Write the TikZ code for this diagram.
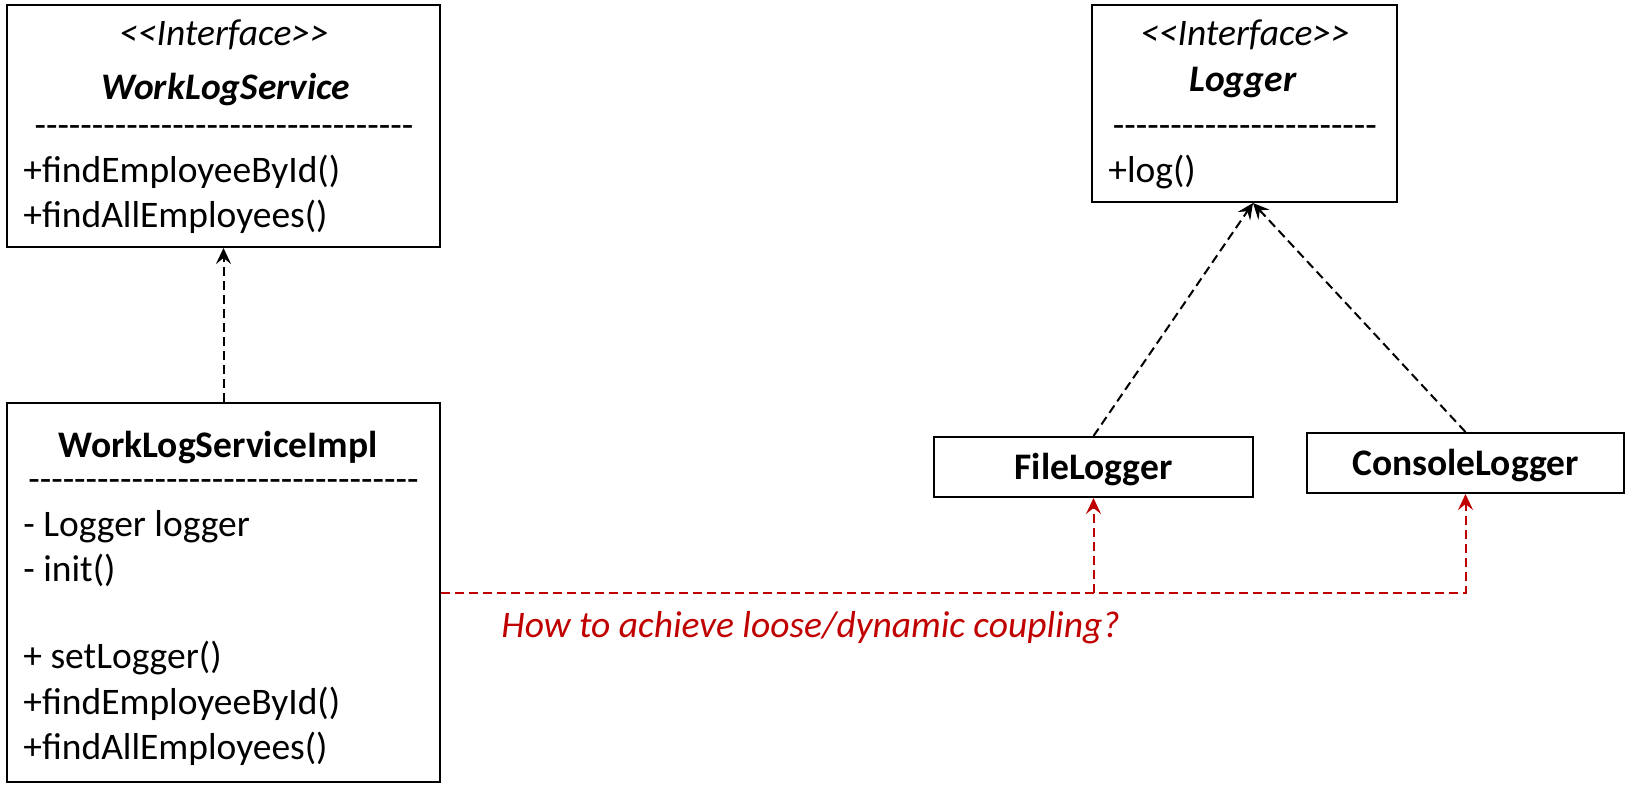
\documentclass[tikz,border=0pt]{standalone}
\usepackage{fontspec}
\setmainfont{Carlito}
\usepackage{tikz}
\usetikzlibrary{
	positioning,
	arrows.meta
}

\definecolor{hintred}{HTML}{C00000}
\newcommand{\sepline}[1]{\foreach \k in {1,...,#1}{-}}

\tikzset{
	umlbox/.style={draw, rectangle, line width=1pt, inner sep=0pt},
	member/.style={anchor=base west, inner sep=0pt},
	heading/.style={anchor=base, inner sep=0pt},
	realizes/.style={-{Stealth[length=8pt,width=7.5pt,inset=3pt]}, line width=1pt, dash pattern=on 4.5pt off 2.5pt},
	coupling/.style={realizes, color=hintred}
}

\begin{document}
\begin{tikzpicture}[x=0.5pt, y=-0.5pt, font=\fontsize{18.75pt}{22pt}\selectfont]
		\useasboundingbox (0,0) rectangle (1627,794);

		% interface WorkLogService
		\node[umlbox, minimum width=216.5pt, minimum height=121pt] (wls) at (223.5,126) {};
		\node[heading] (wlsstereo) at (224,45) {\textit{<{}<Interface>{}>}};
		\node[heading] (wlsname) at (226,99) {\textbf{\textit{WorkLogService}}};
		\node[heading] (wlssep) at (224,137) {\sepline{33}};
		\node[member] (wlsm1) at (23,182) {+findEmployeeById()};
		\node[member] (wlsm2) at (23,227) {+findAllEmployees()};

		% class WorkLogServiceImpl
		\node[umlbox, minimum width=216.5pt, minimum height=189.5pt] (impl) at (223.5,592.5) {};
		\node[heading] (implname) at (218,457) {\textbf{WorkLogServiceImpl}};
		\node[heading] (implsep) at (223.5,491) {\sepline{34}};
		\node[member] (implm1) at (23,536) {- Logger logger};
		\node[member] (implm2) at (23,581) {- init()};
		\node[member] (implm3) at (23,668) {+ setLogger()};
		\node[member] (implm4) at (23,714) {+findEmployeeById()};
		\node[member] (implm5) at (23,759) {+findAllEmployees()};

		% interface Logger
		\node[umlbox, minimum width=152.5pt, minimum height=98.5pt] (logger) at (1244.5,103.5) {};
		\node[heading] (logstereo) at (1245,45) {\textit{<{}<Interface>{}>}};
		\node[heading] (logname) at (1243,91) {\textbf{\textit{Logger}}};
		\node[heading] (logsep) at (1245,137) {\sepline{23}};
		\node[member] (logm1) at (1108,182) {+log()};

		% implementations
		\node[umlbox, minimum width=159.5pt, minimum height=30pt, text height=14pt, text depth=2pt] (filelog) at (1093.5,467) {\textbf{FileLogger}};
		\node[umlbox, minimum width=158.5pt, minimum height=30pt, text height=14pt, text depth=2pt] (consolelog) at (1465.5,463) {\textbf{ConsoleLogger}};

		\node[member, text=hintred] (question) at (501,637) {\textit{How to achieve loose/dynamic coupling?}};

		% connectors
		\coordinate (logtip) at (1253,203);
		\coordinate (fork) at (filelog.south |- impl.east);

		\draw[realizes] (impl.north) -- (wls.south);
		\draw[realizes] (filelog.north) -- (logtip);
		\draw[realizes] (consolelog.north) -- (logtip);

		\draw[coupling] (impl.east) -| (consolelog.south);
		\draw[coupling] (fork) -- (filelog.south);
	\end{tikzpicture}
\end{document}
